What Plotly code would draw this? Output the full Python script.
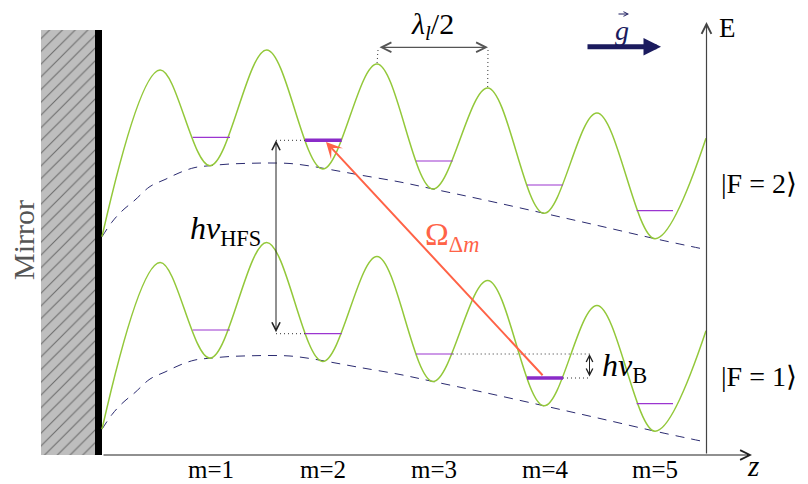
import plotly.graph_objects as go

# ---------------- data (diagram units = pixels) ----------------
# extrema of the optical-lattice potential (trough, crest, trough, ...) for |F=2>
upper_z = [102, 160, 210, 266.7, 322.7, 377, 433, 487.7, 544, 597, 655, 706]
upper_E = [236.7, 70, 165.7, 50, 169, 64, 189, 88, 213.3, 113, 238.7, 138.3]
# same for |F=1>
lower_z = [102, 160, 210, 266.7, 322.7, 377, 433, 487.7, 544, 597, 655, 706]
lower_E = [429.2, 262.5, 358.2, 242.5, 361.5, 256.5, 381.5, 280.5, 405.8, 305.5, 431.2, 330.8]

# dashed envelope (gravity + Casimir-Polder like potential)
env_z = [102, 112, 122, 135, 150, 165, 180, 195, 210, 230, 250, 270, 290, 310, 330,
         360, 400, 433, 480, 544, 600, 655, 700]
env_upper = [236.7, 222, 211, 200, 186.5, 179.5, 172.5, 167.5, 165.7, 164, 163.3, 163,
             163.5, 166, 169.5, 175, 182, 189, 199, 213.3, 226, 238.7, 248.3]
env_lower = [429.2, 414.5, 403.5, 392.5, 379, 372, 365, 360, 358.2, 356.5, 355.8, 355.5,
             356, 358.5, 362, 367.5, 374.5, 381.5, 391.5, 405.8, 418.5, 431.2, 440.8]

# Wannier-Stark levels in each well
level_labels = ["m=1", "m=2", "m=3", "m=4", "m=5"]
level_center = [211, 323, 434, 545, 655]
level_lo = [192.7, 305, 416, 527, 636.7]
level_hi = [230, 341.7, 452.7, 563, 673]
level_upper = [137.3, 140.3, 161, 185, 210.7]
level_lower = [330, 333.7, 354, 378, 403.7]
thick_upper = [False, True, False, False, False]
thick_lower = [False, False, False, True, False]

SERIF = "Liberation Serif, Times New Roman, serif"
GREEN = "#93C83A"
NAVY = "#1B1B5E"
PURPLE = "#9B35D0"
TOMATO = "#FF6347"

# the page body has an 8 px margin: shift the data window so that
# diagram coordinates coincide with window pixels
PAGE_OFFSET = 8

fig = go.Figure()

# mirror
fig.add_trace(go.Bar(x=[68], y=[425], base=[30], width=[54],
                     marker=dict(color="#BEBEBE", line_width=0,
                                 pattern=dict(shape="/", fgcolor="#1a1a1a", bgcolor="#BEBEBE",
                                              size=9, solidity=0.12)),
                     hoverinfo="skip", showlegend=False))
fig.add_trace(go.Bar(x=[98.5], y=[425], base=[30], width=[7],
                     marker=dict(color="black", line_width=0),
                     hoverinfo="skip", showlegend=False))

# envelopes
for ev in (env_upper, env_lower):
    fig.add_trace(go.Scatter(x=env_z, y=ev, mode="lines",
                             line=dict(color="#2B2B70", width=1, dash="9px,7px", shape="spline"),
                             hoverinfo="skip", showlegend=False))

# lattice potentials
for zz, ee in ((upper_z, upper_E), (lower_z, lower_E)):
    fig.add_trace(go.Scatter(x=zz, y=ee, mode="lines",
                             line=dict(color=GREEN, width=1.5, shape="spline", smoothing=1.0),
                             hoverinfo="skip", showlegend=False))

# levels
for levels, thick in ((level_upper, thick_upper), (level_lower, thick_lower)):
    for lo, hi, yv, th in zip(level_lo, level_hi, levels, thick):
        fig.add_trace(go.Scatter(x=[lo, hi], y=[yv, yv], mode="lines",
                                 line=dict(color="#8A2BC8" if th else PURPLE, width=3.5 if th else 1.2),
                                 hoverinfo="skip", showlegend=False))

# dotted guide lines
def dotted(x0, y0, x1, y1, color="#333333"):
    fig.add_trace(go.Scatter(x=[x0, x1], y=[y0, y1], mode="lines",
                             line=dict(color=color, width=1, dash="1px,3px"),
                             hoverinfo="skip", showlegend=False))

dotted(276, level_upper[1], level_lo[1], level_upper[1])
dotted(276, level_lower[1], level_lo[1], level_lower[1])
dotted(378, 50, upper_z[5], upper_E[5])
dotted(488, 50, upper_z[7], upper_E[7])
dotted(level_hi[2], level_lower[2], 590, level_lower[2])
dotted(level_hi[3], level_lower[3], 590, level_lower[3])

ann = []

def arrow(x0, y0, x1, y1, color="#333333", width=1.1, head=5, size=1.6, both=False):
    ann.append(dict(x=x1, y=y1, ax=x0, ay=y0, xref="x", yref="y", axref="x", ayref="y",
                    text="", showarrow=True, arrowhead=head, startarrowhead=head,
                    arrowsize=size, startarrowsize=size, arrowwidth=width, arrowcolor=color,
                    arrowside="end+start" if both else "end", standoff=0, startstandoff=0))

# axes
arrow(706.5, 455, 706.5, 22, color="#444444", width=1.2)
arrow(102, 455, 752, 455, color="#222222", width=1.2)
# hfs splitting
arrow(276, level_lower[1], 276, level_upper[1], color="#222222", width=1, both=True)
# lattice period
arrow(378, 47.3, 488, 47.3, color="#555555", width=1.2, both=True)
# bloch
arrow(589.5, level_lower[3], 589.5, level_lower[2], color="#222222", width=1, size=1.3, both=True)
# Raman coupling
arrow(544, 376.7, 326, 142, color=TOMATO, width=2, head=3, size=1.35)
# gravity
arrow(586, 46.7, 661, 46.7, color=NAVY, width=5, head=2, size=0.7)
# vector accent over g
arrow(617, 14, 629, 14, color=NAVY, width=1, head=5, size=0.9)

def text(x, y, t, size=28, color="black", angle=0, xanchor="center"):
    ann.append(dict(x=x, y=y, xref="x", yref="y", text=t, showarrow=False,
                    font=dict(family=SERIF, size=size, color=color), textangle=angle,
                    xanchor=xanchor, yanchor="middle"))

text(727, 28, "E", size=27)
text(753, 466, "<i>z</i>", size=29)
text(432, 26, "<i>λ</i><sub><i>l</i></sub>/2", size=30)
text(622, 30, "<i>g</i>", size=28, color=NAVY)
text(452, 236, "Ω<sub>Δ<i>m</i></sub>", size=32, color=TOMATO)
text(225, 230, "<i>hν</i><sub>HFS</sub>", size=32)
text(624, 367, "<i>hν</i><sub>B</sub>", size=32)
text(759, 183, "|F = 2⟩", size=28)
text(759, 376, "|F = 1⟩", size=28)
text(23, 240, "Mirror", size=30, color="#555555", angle=-90)
for lab, zc in zip(level_labels, level_center):
    text(zc, 469, lab, size=25)

fig.update_layout(
    width=808, height=484, autosize=False,
    margin=dict(l=0, r=0, t=0, b=0),
    paper_bgcolor="white", plot_bgcolor="white",
    barmode="overlay", showlegend=False,
    xaxis=dict(range=[PAGE_OFFSET, 808 + PAGE_OFFSET], visible=False, fixedrange=True),
    yaxis=dict(range=[484 + PAGE_OFFSET, PAGE_OFFSET], visible=False, fixedrange=True),
    annotations=ann,
)

fig.write_html("out.html")
